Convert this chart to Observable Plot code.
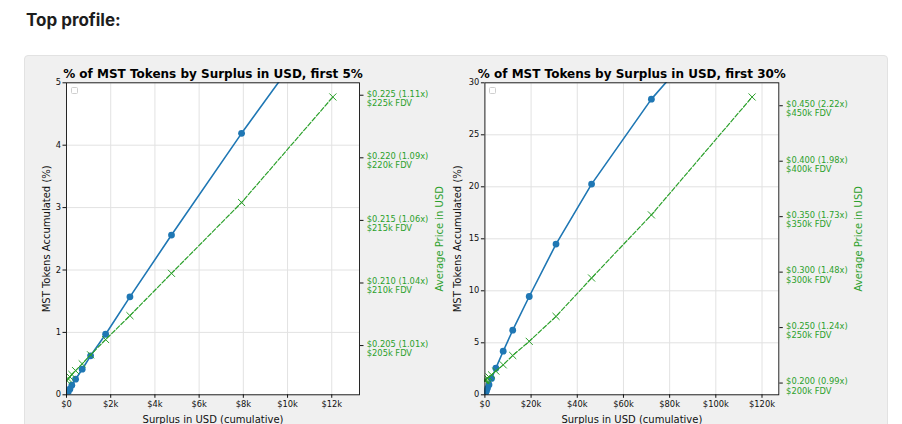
<!DOCTYPE html>
<html><head><meta charset="utf-8">
<script src="https://cdn.jsdelivr.net/npm/d3@7"></script>
<script src="https://cdn.jsdelivr.net/npm/@observablehq/plot@0.6"></script>
<style>
html,body{margin:0;padding:0;background:#fff;}
#page{position:relative;width:902px;height:424px;overflow:hidden;}
#heading{position:absolute;left:26px;top:12px;font:700 17px/1 Inter, "Open Sans", sans-serif;color:#1d1d1d;margin:0;}
#box{position:absolute;left:24px;top:55px;width:862px;height:420px;background:#f0f0f0;border:1px solid #e2e2e2;border-radius:4px;}
.chart{position:absolute;top:56px;}
.chart svg{overflow:visible;}
.legendbox{position:absolute;width:5px;height:5px;border:1px solid #cfcfcf;border-radius:1.5px;background:rgba(255,255,255,0.85);}
</style></head>
<body>
<div id="page">
  <div id="heading">Top profile:</div>
  <div id="box"></div>
  <div id="left" class="chart" style="left:0px"></div>
  <div id="right" class="chart" style="left:450px"></div>
</div>
<script>
// ---- data ----
const surplusUSD  = [15, 75, 150, 240, 410, 710, 1090, 1770, 2870, 4750, 7920, 12050, 19200, 30800, 46200, 72100, 115700];
const tokensPct   = [0.012, 0.045, 0.09, 0.155, 0.25, 0.41, 0.625, 0.97, 1.57, 2.56, 4.19, 6.21, 9.45, 14.49, 20.26, 28.43, 39.5];
const avgPriceUSD = [0.2022, 0.20235, 0.2025, 0.2027, 0.2030, 0.20354, 0.20426, 0.20548, 0.20739, 0.21077, 0.21643, 0.22486, 0.2376, 0.2601, 0.2947, 0.3516, 0.4579];

// chart 1 (first 5%)
const title1 = "% of MST Tokens by Surplus in USD, first 5%";
const limit1 = 5;
const xTicks1 = [0, 2000, 4000, 6000, 8000, 10000, 12000];
const xLabels1 = ["$0", "$2k", "$4k", "$6k", "$8k", "$10k", "$12k"];
const yTicks1 = [0, 1, 2, 3, 4, 5];
const yLabels1 = ["0", "1", "2", "3", "4", "5"];
const priceTicks1 = [0.205, 0.210, 0.215, 0.220, 0.225];
const priceLabels1 = ["$0.205 (1.01x)\n$205k FDV", "$0.210 (1.04x)\n$210k FDV", "$0.215 (1.06x)\n$215k FDV", "$0.220 (1.09x)\n$220k FDV", "$0.225 (1.11x)\n$225k FDV"];

// chart 2 (first 30%)
const title2 = "% of MST Tokens by Surplus in USD, first 30%";
const limit2 = 30;
const xTicks2 = [0, 20000, 40000, 60000, 80000, 100000, 120000];
const xLabels2 = ["$0", "$20k", "$40k", "$60k", "$80k", "$100k", "$120k"];
const yTicks2 = [0, 5, 10, 15, 20, 25, 30];
const yLabels2 = ["0", "5", "10", "15", "20", "25", "30"];
const priceTicks2 = [0.20, 0.25, 0.30, 0.35, 0.40, 0.45];
const priceLabels2 = ["$0.200 (0.99x)\n$200k FDV", "$0.250 (1.24x)\n$250k FDV", "$0.300 (1.48x)\n$300k FDV", "$0.350 (1.73x)\n$350k FDV", "$0.400 (1.98x)\n$400k FDV", "$0.450 (2.22x)\n$450k FDV"];

const yLabel = "MST Tokens Accumulated (%)";
const y2Label = "Average Price in USD";
const xLabel = "Surplus in USD (cumulative)";

const BLUE = "#1f77b4", GREEN = "#2ca02c";

function drawChart(el, cfg) {
  const all = surplusUSD.map((s, i) => ({surplus: s, pct: tokensPct[i], price: avgPriceUSD[i]}));
  const cut = all.findIndex(d => d.pct > cfg.limit);
  const data = all.slice(0, cut + 1);
  const xMax = d3.max(data, d => d.surplus) * 1.1;
  const [pMin, pMax] = d3.extent(data, d => d.price);
  const pad = (pMax - pMin) * 0.05;
  const priceToY = d3.scaleLinear([pMin - pad, pMax + pad], [0, cfg.limit]);
  const pTicksY = cfg.priceTicks.map(priceToY);
  const lookup = (ticks, labels) => d => labels[ticks.findIndex(t => Math.abs(t - d) < 1e-9)];

  const chart = Plot.plot({
    width: cfg.width, height: 368,
    marginLeft: cfg.marginLeft, marginRight: cfg.marginRight, marginTop: 26.3, marginBottom: 29.7,
    style: {background: "transparent", fontFamily: "DejaVu Sans", fontSize: "8.3px", color: "#111", overflow: "visible"},
    x: {domain: [0, xMax]},
    y: {domain: [0, cfg.limit]},
    marks: [
      Plot.frame({fill: "white"}),
      Plot.gridX(cfg.xTicks, {stroke: "#e2e2e2", strokeOpacity: 1}),
      Plot.gridY(cfg.yTicks, {stroke: "#e2e2e2", strokeOpacity: 1}),
      Plot.line(data, {x: "surplus", y: "pct", stroke: BLUE, strokeWidth: 1.6, clip: true}),
      Plot.dot(data, {x: "surplus", y: "pct", r: 3.4, fill: BLUE, clip: true}),
      Plot.line(data, {x: "surplus", y: d => priceToY(d.price), stroke: GREEN, strokeWidth: 1.2, strokeDasharray: "4.5,2", clip: true}),
      Plot.dot(data, {x: "surplus", y: d => priceToY(d.price), symbol: "times", r: 3.3, stroke: GREEN, strokeWidth: 1, clip: true}),
      Plot.axisX(cfg.xTicks, {tickSize: 3.5, tickPadding: 2.5, tickFormat: lookup(cfg.xTicks, cfg.xLabels), label: null}),
      Plot.axisY(cfg.yTicks, {anchor: "left", tickSize: 3.5, tickPadding: 2, tickFormat: lookup(cfg.yTicks, cfg.yLabels), label: null}),
      Plot.axisY(pTicksY, {anchor: "right", tickSize: 3.5, stroke: "#111", tickFormat: () => "", label: null}),
      Plot.axisY(pTicksY, {anchor: "right", tickSize: 0, tickPadding: 7.3, dy: 3, lineHeight: 1.1, fill: GREEN,
        tickFormat: lookup(pTicksY, cfg.priceLabels), label: null}),
      Plot.frame({stroke: "#111", strokeWidth: 0.9}),
      Plot.text([cfg.title], {frameAnchor: "top", lineAnchor: "bottom", dy: -5, fontWeight: "bold", fontSize: 12, fill: "#000"}),
      Plot.text([xLabel], {frameAnchor: "bottom", textAnchor: "middle", lineAnchor: "bottom", dy: 28, fontSize: 10, fill: "#111"}),
      Plot.text([yLabel], {frameAnchor: "left", textAnchor: "middle", rotate: -90, lineAnchor: "top", dx: -cfg.yLabelOffset, fontSize: 10, fill: "#111"}),
      Plot.text([y2Label], {frameAnchor: "right", textAnchor: "middle", rotate: -90, lineAnchor: "bottom", dx: 83, fontSize: 10, fill: GREEN})
    ]
  });
  el.appendChild(chart);
  const lb = document.createElement("div");
  lb.className = "legendbox";
  lb.style.left = (cfg.marginLeft + 4.5) + "px";
  lb.style.top = (26.3 + 4.5) + "px";
  el.appendChild(lb);
}

drawChart(document.getElementById("left"), {
  width: 450, marginLeft: 66, marginRight: 91, limit: limit1, title: title1,
  xTicks: xTicks1, xLabels: xLabels1, yTicks: yTicks1, yLabels: yLabels1, priceTicks: priceTicks1, priceLabels: priceLabels1, yLabelOffset: 24
});
drawChart(document.getElementById("right"), {
  width: 452, marginLeft: 34.4, marginRight: 123.7, limit: limit2, title: title2,
  xTicks: xTicks2, xLabels: xLabels2, yTicks: yTicks2, yLabels: yLabels2, priceTicks: priceTicks2, priceLabels: priceLabels2, yLabelOffset: 31
});
</script>
</body></html>
